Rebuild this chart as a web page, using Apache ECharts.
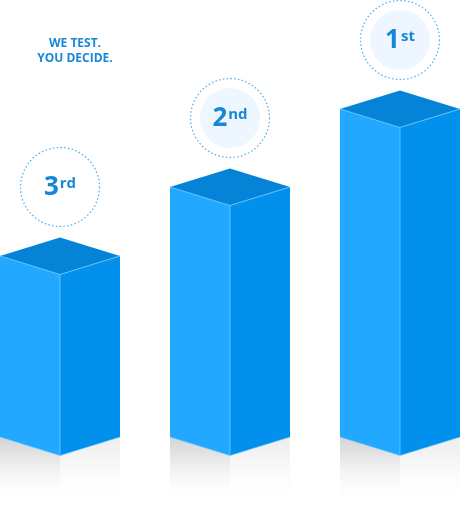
<!DOCTYPE html>
<html>
<head>
<meta charset="utf-8">
<script src="https://cdn.jsdelivr.net/npm/echarts@6/dist/echarts.min.js"></script>
<style>
html,body{margin:0;padding:0;background:#fff;}
#chart{width:461px;height:517px;}
</style>
</head>
<body>
<div id="chart"></div>
<script>
// ---- data ----
const categories = ['3rd', '2nd', '1st'];
const rankNumbers = ['3', '2', '1'];
const rankSuffixes = ['rd', 'nd', 'st'];
const heights = [181, 250, 328];
const badgeFilled = [0, 1, 1];
const titleLines = ['WE TEST.', 'YOU DECIDE.'];

const TEXT_COLOR = '#1787d8';
const FONT = '"Open Sans", Lato, sans-serif';

const seriesData = categories.map((c, i) => [i, heights[i], badgeFilled[i]]);

function renderItem(params, api) {
  const idx = api.value(0);
  const top = api.coord([idx, api.value(1)]);
  const base = api.coord([idx, 0]);
  const cx = top[0], yt = top[1], yb = base[1];
  const hw = 60, d = 18.5;
  const children = [];
  // reflection / shadow
  children.push({
    type: 'polygon',
    shape: { points: [[cx - hw, yb], [cx, yb + d], [cx, yb + 66], [cx - hw, yb + 66]] },
    style: { fill: new echarts.graphic.LinearGradient(0, 0, 0, 1, [
      { offset: 0, color: 'rgba(0,0,0,0.17)' },
      { offset: 0.5, color: 'rgba(0,0,0,0.05)' },
      { offset: 1, color: 'rgba(255,255,255,0)' }
    ]) }
  });
  children.push({
    type: 'polygon',
    shape: { points: [[cx, yb + d], [cx + hw, yb], [cx + hw, yb + 66], [cx, yb + 66]] },
    style: { fill: new echarts.graphic.LinearGradient(0, 0, 0, 1, [
      { offset: 0, color: 'rgba(0,0,0,0.07)' },
      { offset: 0.5, color: 'rgba(0,0,0,0.025)' },
      { offset: 1, color: 'rgba(255,255,255,0)' }
    ]) }
  });
  // left face
  children.push({
    type: 'polygon',
    shape: { points: [[cx - hw, yt], [cx, yt + d], [cx, yb + d], [cx - hw, yb]] },
    style: { fill: '#22a9ff' }
  });
  // right face
  children.push({
    type: 'polygon',
    shape: { points: [[cx, yt + d], [cx + hw, yt], [cx + hw, yb], [cx, yb + d]] },
    style: { fill: '#0190eb' }
  });
  // top face
  children.push({
    type: 'polygon',
    shape: { points: [[cx - hw, yt], [cx, yt - d], [cx + hw, yt], [cx, yt + d]] },
    style: { fill: '#0584d7' }
  });
  // highlight edges
  children.push({
    type: 'polyline',
    shape: { points: [[cx - hw, yt], [cx, yt + d], [cx + hw, yt]] },
    style: { stroke: '#5cc2ff', lineWidth: 1, fill: null }
  });
  children.push({
    type: 'line',
    shape: { x1: cx, y1: yt + d, x2: cx, y2: yb + d },
    style: { stroke: '#5cc2ff', lineWidth: 1 }
  });
  children.push({
    type: 'polyline',
    shape: { points: [[cx - hw, yb], [cx, yb + d], [cx + hw, yb]] },
    style: { stroke: 'rgba(92,194,255,0.6)', lineWidth: 1, fill: null }
  });
  // badge
  const by = yt - 69;
  if (api.value(2)) {
    children.push({
      type: 'circle',
      shape: { cx: cx, cy: by, r: 30 },
      style: { fill: '#eef7ff' }
    });
  }
  children.push({
    type: 'circle',
    shape: { cx: cx, cy: by, r: 39.5 },
    style: { fill: null, stroke: '#5ab8f0', lineWidth: 1.3, lineDash: [1.6, 2.2] }
  });
  children.push({
    type: 'text',
    style: {
      x: cx, y: by + 1,
      text: '{a|' + rankNumbers[idx] + '}{b|' + rankSuffixes[idx] + '}',
      align: 'center', verticalAlign: 'middle',
      fill: TEXT_COLOR,
      rich: {
        a: { fontSize: 26, fontWeight: 'bold', fontFamily: FONT, fill: TEXT_COLOR, lineHeight: 30 },
        b: { fontSize: 15, fontWeight: 'bold', fontFamily: FONT, fill: TEXT_COLOR, verticalAlign: 'top', lineHeight: 18, padding: [3, 0, 0, 1] }
      }
    }
  });
  return { type: 'group', children: children };
}

const chart = echarts.init(document.getElementById('chart'), null, { renderer: 'canvas' });
chart.setOption({
  animation: false,
  backgroundColor: '#ffffff',
  grid: { left: 60, right: 61, top: 37, bottom: 80 },
  xAxis: { type: 'category', data: categories, boundaryGap: false, show: false },
  yAxis: { type: 'value', min: 0, max: 400, show: false },
  graphic: [{
    type: 'text',
    x: 75, y: 36,
    style: {
      text: titleLines.join('\n'),
      align: 'center', verticalAlign: 'top',
      font: 'bold 12px ' + FONT,
      lineHeight: 15,
      fill: TEXT_COLOR
    }
  }],
  series: [{
    type: 'custom',
    renderItem: renderItem,
    data: seriesData,
    clip: false
  }]
});
</script>
</body>
</html>
